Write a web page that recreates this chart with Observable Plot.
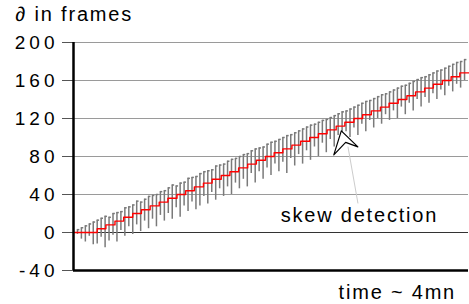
<!DOCTYPE html>
<html>
<head>
<meta charset="utf-8">
<script src="https://cdn.jsdelivr.net/npm/d3@7"></script>
<script src="https://cdn.jsdelivr.net/npm/@observablehq/plot@0.6"></script>
<style>
  html, body { margin: 0; padding: 0; background: #fff; }
  g[aria-label="y-axis tick label"] text { letter-spacing: 4px; }
  g[aria-label="text"] text { letter-spacing: 1.8px; }
</style>
</head>
<body>
<div id="chart"></div>
<script>
// y tick values and grid values
const yTicks = [-40, 0, 40, 80, 120, 160, 200];
const gridTicks = [40, 80, 120, 160, 200];

// red step line: breakpoints (time units, 0..100 ~ 4mn) and skew levels (frames)
const redX = [0, 6.0, 8.2, 10.5, 12.7, 15.0, 17.2, 19.4, 21.7, 23.9, 26.2, 28.4, 30.6, 32.9, 35.1, 37.4, 39.6, 41.8, 44.1, 46.3, 48.6, 50.8, 53.0, 55.3, 57.5, 59.8, 62.0, 64.2, 66.5, 68.7, 71.0, 73.2, 75.4, 77.7, 79.9, 82.2, 84.4, 86.6, 88.9, 91.1, 93.4, 95.6, 97.8, 100];
const redY = [0, 4, 8, 12, 16, 20, 24, 28, 32, 36, 40, 44, 48, 52, 56, 60, 64, 68, 72, 76, 80, 84, 88, 92, 96, 100, 104, 108, 112, 116, 120, 124, 128, 132, 136, 140, 144, 148, 152, 156, 160, 164, 168, 168];

// grey measurement bars: time, top and bottom values
const barT = [1,2,3,4,5,6,7,8,9,10,11,12,13,14,15,16,17,18,19,20,21,22,23,24,25,26,27,28,29,30,31,32,33,34,35,36,37,38,39,40,41,42,43,44,45,46,47,48,49,50,51,52,53,54,55,56,57,58,59,60,61,62,63,64,65,66,67,68,69,70,71,72,73,74,75,76,77,78,79,80,81,82,83,84,85,86,87,88,89,90,91,92,93,94,95,96,97,98,99];
const barTop = [3,5,7,9,11,13,15,17,16,20,21,22,26,27,29,33,32,35,38,39,40,43,44,47,50,49,52,53,57,58,59,62,64,65,66,70,71,72,75,77,78,80,82,83,86,88,89,90,93,95,96,98,100,102,103,105,107,109,111,113,114,116,118,119,121,123,125,127,128,130,132,134,136,138,139,141,143,145,146,148,150,152,154,155,157,159,161,163,164,166,168,170,171,173,175,177,179,180,182];
const barBottom = [-2,-7,-10,-4,-13,-12,-5,-16,-9,-3,-10,2,-4,6,-2,8,1,12,4,14,6,18,12,20,14,26,16,28,22,32,24,28,38,30,42,34,46,38,48,40,52,46,56,48,62,52,64,56,68,60,72,64,74,62,78,70,82,72,86,76,90,80,94,84,98,90,102,94,106,100,110,102,114,106,118,110,120,114,124,118,128,120,132,124,136,128,140,132,142,136,146,140,150,144,154,148,156,152,160];

// annotation arrow (hollow arrowhead) and leader line
const arrowT = [67.8, 65.9, 68.9, 72.0, 67.8];
const arrowV = [107.0, 81.7, 94.9, 90.1, 107.0];
const leaderT = [69.5, 72.0];
const leaderV = [90.0, 31.0];

const titleText = ["∂ in frames"];
const noteText = ["skew detection"];
const xLabelText = ["time ~ 4mn"];

const bars = barT.map((t, i) => ({t, top: barTop[i], bottom: barBottom[i]}));
const red = redX.map((x, i) => ({x, y: redY[i]}));
const arrow = arrowT.map((t, i) => ({t, v: arrowV[i]}));
const leader = leaderT.map((t, i) => ({t, v: leaderV[i]}));

const chart = Plot.plot({
  width: 469,
  height: 304,
  marginLeft: 73,
  marginRight: 1,
  marginTop: 42,
  marginBottom: 34,
  x: {domain: [0, 100], axis: null},
  y: {domain: [-40, 200], axis: null},
  style: {fontFamily: "'Liberation Sans', Arial, sans-serif", background: "white", color: "#000"},
  marks: [
    Plot.gridY(gridTicks, {stroke: "#9a9a9a", strokeOpacity: 1, strokeWidth: 1}),
    Plot.ruleY([0], {stroke: "#333", strokeWidth: 1}),
    Plot.axisY(yTicks, {tickSize: 11, tickPadding: 4, fontSize: 19, stroke: "#555", fill: "#000", tickFormat: d => String(d), label: null}),
    Plot.ruleX(bars, {x: "t", y1: "bottom", y2: "top", stroke: "#7a7a7a", strokeWidth: 1.5}),
    Plot.ruleY(bars, {x1: "t", x2: d => d.t + 0.6, y: "top", stroke: "#7a7a7a", strokeWidth: 1.5}),
    Plot.line(red, {x: "x", y: "y", curve: "step-after", stroke: "red", strokeWidth: 1.4}),
    Plot.line(leader, {x: "t", y: "v", stroke: "#cccccc", strokeWidth: 1}),
    Plot.line(arrow, {x: "t", y: "v", stroke: "#000", fill: "white", strokeWidth: 1.2}),
    Plot.ruleY([-40], {stroke: "#000", strokeWidth: 2.5}),
    Plot.ruleX([0], {stroke: "#000", strokeWidth: 2.5}),
    Plot.text(titleText, {text: d => d, frameAnchor: "top-left", lineAnchor: "middle", dx: -58, dy: -27.7, textAnchor: "start", fontSize: 20, fill: "#000"}),
    Plot.text(noteText, {text: d => d, frameAnchor: "top-left", lineAnchor: "middle", dx: 285.9, dy: 173.3, textAnchor: "middle", fontSize: 20, fill: "#000"}),
    Plot.text(xLabelText, {text: d => d, frameAnchor: "top-left", lineAnchor: "middle", dx: 323.8, dy: 249.6, textAnchor: "middle", fontSize: 20, fill: "#000"})
  ]
});
document.getElementById("chart").appendChild(chart);
</script>
</body>
</html>
